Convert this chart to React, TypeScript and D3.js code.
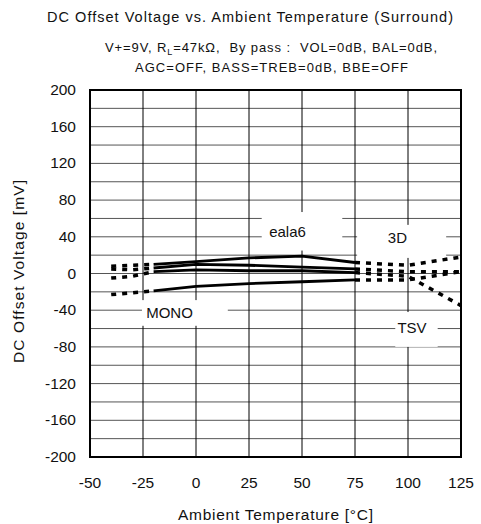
import React from "react";
import * as d3 from "d3";

const temps = [-40, -30, -20, 0, 25, 50, 75, 100, 125];
const eala6 = [8, 9, 10, 13, 17, 19, 12, 9, 18];
const threeD = [5, 4, 6, 10, 9, 7, 5, 2, 2];
const tsv = [-5, -3, 2, 4, 3, 3, 1, -3, -35];
const mono = [-23, -21, -19, -14, -11, -9, -7, -7, 2];
const seriesList = [eala6, threeD, tsv, mono];

const xTicks = [-50, -25, 0, 25, 50, 75, 100, 125];
const yTicks = [200, 160, 120, 80, 40, 0, -40, -80, -120, -160, -200];
const yGrid = d3.range(-180, 200, 20);

const labelNames = ["eala6", "3D", "MONO", "TSV"];
const labelBoxT = [[31, 69], [76, 118], [-25.5, 15], [94, 114]];
const labelBoxV = [[67, 25], [53, 17], [-29, -57], [-42, -80]];
const labelPosT = [34.5, 90.5, -23.5, 95];
const labelPosV = [40, 33, -49, -65];

const W = 481, H = 524;
const L = 90, R = 461, T = 90, B = 457;

export default function App() {
  const x = d3.scaleLinear().domain([-50, 125]).range([L, R]);
  const y = d3.scaleLinear().domain([-200, 200]).range([B, T]);
  const line = d3.line<[number, number]>().x(d => x(d[0])).y(d => y(d[1]));
  const font = "Arimo, 'Liberation Sans', Arial, sans-serif";

  const segs: { d: string; dashed: boolean }[] = [];
  seriesList.forEach(vals => {
    const pts: [number, number][] = temps.map((t, i) => [t, vals[i]]);
    const left = pts.filter(p => p[0] <= -20);
    const mid = pts.filter(p => p[0] >= -20 && p[0] <= 75);
    const right = pts.filter(p => p[0] >= 75);
    segs.push({ d: line(left) || "", dashed: true });
    segs.push({ d: line(mid) || "", dashed: false });
    segs.push({ d: line(right) || "", dashed: true });
  });

  return (
    <svg width={W} height={H} style={{ position: "absolute", left: 0, top: 0 }} fontFamily={font}>
      <rect x={0} y={0} width={W} height={H} fill="#fff" />
      <text x={47} y={22} fontSize={14.5} textLength={406} lengthAdjust="spacing" fill="#111">
        DC Offset Voltage vs. Ambient Temperature (Surround)
      </text>
      <text x={105} y={52} fontSize={13} textLength={332} lengthAdjust="spacing" fill="#111">
        V+=9V, R<tspan fontSize={9} dy={3}>L</tspan><tspan dy={-3}>{"=47kΩ,\u00A0 By pass :\u00A0 VOL=0dB, BAL=0dB,"}</tspan>
      </text>
      <text x={135} y={72} fontSize={13} textLength={273} lengthAdjust="spacing" fill="#111">
        AGC=OFF, BASS=TREB=0dB, BBE=OFF
      </text>

      {yGrid.map(v => (
        <line key={"h" + v} x1={L} x2={R} y1={y(v)} y2={y(v)} stroke="#555" strokeWidth={1} />
      ))}
      {xTicks.slice(1, -1).map(t => (
        <line key={"v" + t} x1={x(t)} x2={x(t)} y1={T} y2={B} stroke="#000" strokeWidth={1} />
      ))}

      {labelNames.map((n, i) => (
        <rect key={"b" + n} x={x(labelBoxT[i][0])} y={y(labelBoxV[i][0])}
          width={x(labelBoxT[i][1]) - x(labelBoxT[i][0])}
          height={y(labelBoxV[i][1]) - y(labelBoxV[i][0])} fill="#fff" />
      ))}

      {segs.map((s, i) => (
        <path key={"s" + i} d={s.d} fill="none" stroke="#000" strokeWidth={s.dashed ? 3.5 : 2.8}
          strokeDasharray={s.dashed ? "5,6" : undefined} strokeLinejoin="round" />
      ))}

      {labelNames.map((n, i) => (
        <text key={"l" + n} x={x(labelPosT[i])} y={y(labelPosV[i])} fontSize={15} fill="#111">{n}</text>
      ))}

      <rect x={L} y={T} width={R - L} height={B - T} fill="none" stroke="#000" strokeWidth={2} />

      {yTicks.map(v => (
        <text key={"yt" + v} x={76} y={y(v) + 5} fontSize={15.5} textAnchor="end" fill="#111">{v}</text>
      ))}
      {xTicks.map(t => (
        <text key={"xt" + t} x={x(t)} y={488} fontSize={15.5} textAnchor="middle" fill="#111">{t}</text>
      ))}
      <text x={178} y={520} fontSize={15.5} textLength={195} lengthAdjust="spacing" fill="#111">Ambient Temperature [°C]</text>
      <text transform={`translate(24,363) rotate(-90)`} fontSize={15.5} textLength={183} lengthAdjust="spacing" fill="#111">
        DC Offset Voltage [mV]
      </text>
    </svg>
  );
}
